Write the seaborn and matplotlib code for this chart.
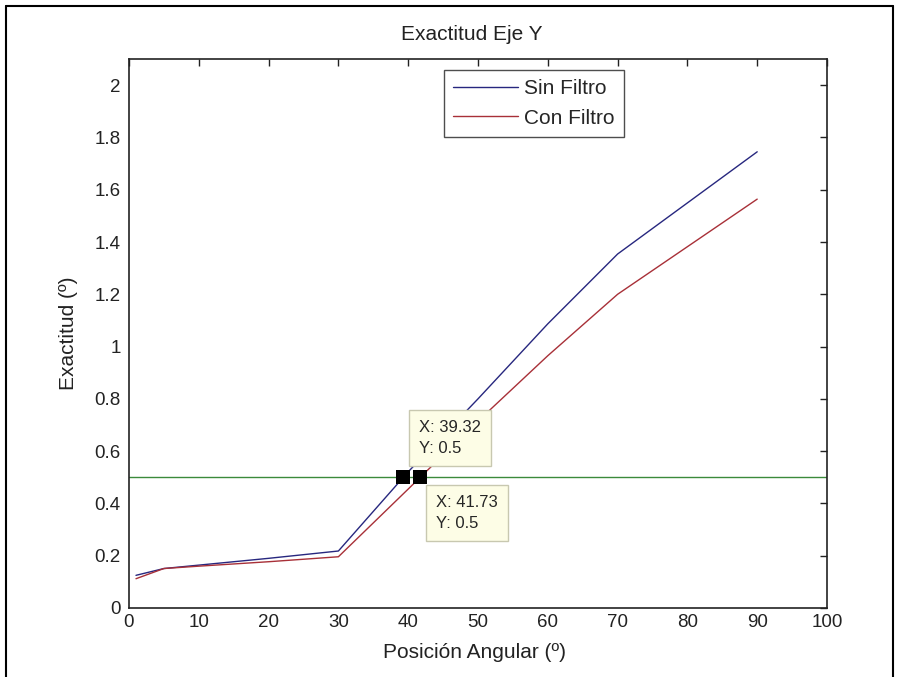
import numpy as np
import pandas as pd
import matplotlib
matplotlib.use("Agg")
import matplotlib.pyplot as plt
import seaborn as sns
from matplotlib.lines import Line2D

# ---- data ----
x_sin = [1, 5, 10, 20, 30, 40, 50, 60, 70, 90]
y_sin = [0.125, 0.151, 0.164, 0.190, 0.218, 0.521, 0.800, 1.087, 1.354, 1.745]
x_con = [1, 5, 10, 20, 30, 40, 50, 60, 70, 90]
y_con = [0.112, 0.151, 0.160, 0.177, 0.196, 0.455, 0.715, 0.965, 1.200, 1.564]
threshold = 0.5
cursor_x = [39.32, 41.73]
cursor_y = [0.5, 0.5]
series_names = ["Sin Filtro", "Con Filtro"]
x_ticks = [0, 10, 20, 30, 40, 50, 60, 70, 80, 90, 100]
y_ticks = [0, 0.2, 0.4, 0.6, 0.8, 1, 1.2, 1.4, 1.6, 1.8, 2]
y_tick_labels = ["0", "0.2", "0.4", "0.6", "0.8", "1", "1.2", "1.4", "1.6", "1.8", "2"]

df = pd.concat([
    pd.DataFrame({"x": x_sin, "y": y_sin, "serie": series_names[0]}),
    pd.DataFrame({"x": x_con, "y": y_con, "serie": series_names[1]}),
])

sns.set_style("white")
plt.rcParams['font.family'] = ['Liberation Sans', 'DejaVu Sans']

col_blue = "#27277f"
col_red = "#a83038"
col_green = "#3b8a3b"
txt = "#222222"

W, H = 899, 677
fig = plt.figure(figsize=(W/100, H/100), dpi=100)
ax = fig.add_axes([129/W, 1 - 608/H, (827-129)/W, (608-59)/H])

sns.lineplot(data=df, x="x", y="y", hue="serie", palette=[col_blue, col_red],
             linewidth=1.0, ax=ax, legend=False, sort=False)
ax.axhline(threshold, color=col_green, linewidth=1.0)

ax.set_xlim(0, 100)
ax.set_ylim(0, 2.1)
ax.set_xticks(x_ticks)
ax.set_xticklabels([str(t) for t in x_ticks])
ax.set_yticks(y_ticks)
ax.set_yticklabels(y_tick_labels)
ax.tick_params(direction="in", length=5, width=1, top=True, right=True,
               labelsize=13.5, colors=txt)
ax.tick_params(axis="x", pad=4)
ax.tick_params(axis="y", pad=6)
for s in ax.spines.values():
    s.set_visible(True)
    s.set_color(txt)
    s.set_linewidth(1.2)

ax.set_xlabel("")
ax.set_ylabel("")
fig.text(475/W, 1 - 653/H, "Posición Angular (º)", fontsize=15, ha="center", va="center", color=txt)
fig.text(68/W, 1 - 333/H, "Exactitud (º)", fontsize=15, ha="center", va="center",
         rotation=90, color=txt)
fig.text(472/W, 1 - 35/H, "Exactitud Eje Y", fontsize=15, ha="center", va="center", color=txt)

# data cursor markers
ax.scatter(cursor_x, cursor_y, marker="s", s=100, color="black", zorder=5, linewidths=0)

# data tips
box = dict(boxstyle="square,pad=0.6", facecolor="#fdfde6", edgecolor="#c8c8b0", linewidth=1)
ax.annotate(f"X: {cursor_x[0]:.2f}\nY: {cursor_y[0]}", xy=(cursor_x[0], cursor_y[0]),
            xytext=(450/W, 1 - 438/H), textcoords="figure fraction",
            fontsize=12, va="center", ha="center", multialignment="left",
            bbox=box, linespacing=1.55, zorder=6)
ax.annotate(f"X: {cursor_x[1]:.2f}\nY: {cursor_y[1]}", xy=(cursor_x[1], cursor_y[1]),
            xytext=(467/W, 1 - 513/H), textcoords="figure fraction",
            fontsize=12, va="center", ha="center", multialignment="left",
            bbox=box, linespacing=1.55, zorder=6)

handles = [Line2D([], [], color=col_blue, lw=1.0), Line2D([], [], color=col_red, lw=1.0)]
leg = ax.legend(handles, series_names, loc="upper left",
                bbox_to_anchor=((444-129)/698, (608-70)/549),
                fontsize=15, frameon=True, fancybox=False, handlelength=3.1,
                handletextpad=0.3, borderpad=0.45, labelspacing=0.5, borderaxespad=0)
leg.get_frame().set_edgecolor(txt)
leg.get_frame().set_linewidth(1.0)

# outer border of the image
fig.add_artist(Line2D([6/W, 6/W], [0, 1 - 6/H], transform=fig.transFigure, color="black", lw=1.5))
fig.add_artist(Line2D([6/W, 893/W], [1 - 6/H, 1 - 6/H], transform=fig.transFigure, color="black", lw=1.5))
fig.add_artist(Line2D([893/W, 893/W], [0, 1 - 6/H], transform=fig.transFigure, color="black", lw=1.5))

fig.savefig("out.png", dpi=100)
